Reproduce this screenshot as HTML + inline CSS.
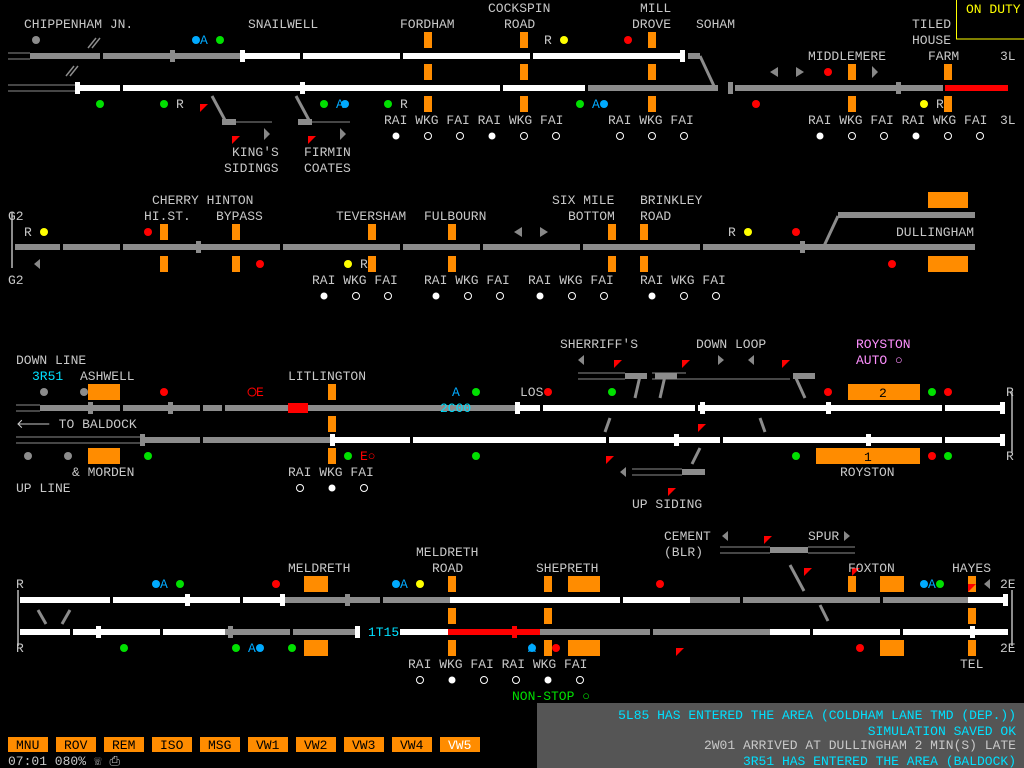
<!DOCTYPE html>
<html><head><meta charset="utf-8"><style>
html,body{margin:0;padding:0;background:#000;width:1024px;height:768px;overflow:hidden}
svg{display:block}
text{font-family:"Liberation Mono",monospace;font-size:13px;fill:#c8c8c8}
.c{fill:#00e0ff}.g{fill:#00e000}.y{fill:#ffff00}.p{fill:#ff90ff}.k{fill:#000}
.w{fill:#fff}.gr{fill:#8c8c8c}.o{fill:#ff8c00}.r{fill:#ff0000}
</style></head><body>
<svg width="1024" height="768" viewBox="0 0 1024 768" xmlns="http://www.w3.org/2000/svg">
<g stroke="#8c8c8c" stroke-width="1" fill="none">
<path d="M8 53h22M8 59h22M8 85h67M8 91h67M16 405h24M16 411h24M16 437h124M16 443h124M578 373h47M578 379h47M652 373h34M652 379h138M632 469h50M632 475h50M720 547h50M720 553h50M808 547h47M808 553h47"/>
</g>
<g stroke="#8c8c8c" stroke-width="3" fill="none">
<path d="M700 56l14 30M824 246l14-30M296 96l14 26M212 96l14 26M795 376l10 22M640 376l-5 22M665 376l-5 22M610 418l-5 14M760 418l5 14M700 448l-8 16M790 565l14 26M820 605l8 16M38 610l8 14M70 610l-8 14"/>
<path d="M222 122h50M310 122h40" stroke-width="1"/>
<path d="M96 38l-8 10M100 38l-8 10M74 66l-8 10M78 66l-8 10" stroke-width="1.5"/>
</g>
<!-- row1 tracks -->
<rect x="30" y="53" width="210" height="6" class="gr"/>
<rect x="243" y="53" width="442" height="6" class="w"/>
<rect x="688" y="53" width="12" height="6" class="gr"/>
<rect x="75" y="85" width="510" height="6" class="w"/>
<rect x="588" y="85" width="130" height="6" class="gr"/>
<rect x="735" y="85" width="208" height="6" class="gr"/>
<rect x="945" y="85" width="63" height="6" class="r"/>
<rect x="222" y="119" width="14" height="6" class="gr"/><rect x="298" y="119" width="14" height="6" class="gr"/>
<!-- row2 -->
<rect x="15" y="244" width="810" height="6" class="gr"/>
<rect x="838" y="212" width="137" height="6" class="gr"/>
<rect x="825" y="244" width="150" height="6" class="gr"/>
<!-- row3 -->
<rect x="40" y="405" width="475" height="6" class="gr"/>
<rect x="288" y="403" width="20" height="10" class="r"/>
<rect x="515" y="405" width="490" height="6" class="w"/>
<rect x="140" y="437" width="190" height="6" class="gr"/>
<rect x="330" y="437" width="675" height="6" class="w"/>
<rect x="625" y="373" width="22" height="6" class="gr"/><rect x="655" y="373" width="22" height="6" class="gr"/><rect x="793" y="373" width="22" height="6" class="gr"/>
<rect x="682" y="469" width="23" height="6" class="gr"/>
<!-- row4 -->
<rect x="20" y="597" width="265" height="6" class="w"/>
<rect x="285" y="597" width="165" height="6" class="gr"/>
<rect x="450" y="597" width="240" height="6" class="w"/>
<rect x="690" y="597" width="278" height="6" class="gr"/>
<rect x="968" y="597" width="40" height="6" class="w"/>
<rect x="20" y="629" width="205" height="6" class="w"/>
<rect x="225" y="629" width="130" height="6" class="gr"/>
<rect x="400" y="629" width="48" height="6" class="w"/>
<rect x="448" y="629" width="92" height="6" class="r"/>
<rect x="540" y="629" width="230" height="6" class="gr"/>
<rect x="770" y="629" width="238" height="6" class="w"/>
<rect x="770" y="547" width="38" height="6" class="gr"/>
<!-- track section gaps / joints -->
<g class="k">
<rect x="120" y="84" width="3" height="8"/><rect x="300" y="84" width="3" height="8"/><rect x="500" y="84" width="3" height="8"/>
<rect x="100" y="52" width="3" height="8"/><rect x="300" y="52" width="3" height="8"/><rect x="400" y="52" width="3" height="8"/><rect x="530" y="52" width="3" height="8"/>
<rect x="60" y="243" width="3" height="8"/><rect x="120" y="243" width="3" height="8"/><rect x="280" y="243" width="3" height="8"/><rect x="400" y="243" width="3" height="8"/><rect x="480" y="243" width="3" height="8"/><rect x="580" y="243" width="3" height="8"/><rect x="700" y="243" width="3" height="8"/>
<rect x="120" y="404" width="3" height="8"/><rect x="200" y="404" width="3" height="8"/><rect x="222" y="404" width="3" height="8"/><rect x="540" y="404" width="3" height="8"/><rect x="695" y="404" width="3" height="8"/><rect x="942" y="404" width="3" height="8"/>
<rect x="200" y="436" width="3" height="8"/><rect x="410" y="436" width="3" height="8"/><rect x="606" y="436" width="3" height="8"/><rect x="720" y="436" width="3" height="8"/><rect x="942" y="436" width="3" height="8"/>
<rect x="110" y="596" width="3" height="8"/><rect x="240" y="596" width="3" height="8"/><rect x="380" y="596" width="3" height="8"/><rect x="620" y="596" width="3" height="8"/><rect x="740" y="596" width="3" height="8"/><rect x="880" y="596" width="3" height="8"/>
<rect x="70" y="628" width="3" height="8"/><rect x="160" y="628" width="3" height="8"/><rect x="290" y="628" width="3" height="8"/><rect x="650" y="628" width="3" height="8"/><rect x="810" y="628" width="3" height="8"/><rect x="900" y="628" width="3" height="8"/>
</g>
<!-- end blocks -->
<g class="w">
<rect x="240" y="50" width="5" height="12"/><rect x="680" y="50" width="5" height="12"/><rect x="75" y="82" width="5" height="12"/><rect x="300" y="82" width="5" height="12"/>
<rect x="515" y="402" width="5" height="12"/><rect x="700" y="402" width="5" height="12"/><rect x="826" y="402" width="5" height="12"/><rect x="1000" y="402" width="5" height="12"/>
<rect x="330" y="434" width="5" height="12"/><rect x="674" y="434" width="5" height="12"/><rect x="866" y="434" width="5" height="12"/><rect x="1000" y="434" width="5" height="12"/>
<rect x="185" y="594" width="5" height="12"/><rect x="280" y="594" width="5" height="12"/><rect x="1003" y="594" width="5" height="12"/><rect x="96" y="626" width="5" height="12"/><rect x="355" y="626" width="5" height="12"/><rect x="970" y="626" width="5" height="12"/>
</g>
<g class="gr"><rect x="170" y="50" width="5" height="12"/><rect x="728" y="82" width="5" height="12"/><rect x="896" y="82" width="5" height="12"/><rect x="196" y="241" width="5" height="12"/><rect x="800" y="241" width="5" height="12"/><rect x="88" y="402" width="5" height="12"/><rect x="168" y="402" width="5" height="12"/><rect x="140" y="434" width="5" height="12"/><rect x="345" y="594" width="5" height="12"/><rect x="228" y="626" width="5" height="12"/></g>
<rect x="512" y="626" width="5" height="12" class="r"/>
<g stroke="#8c8c8c" stroke-width="2"><path d="M12 212v56M1012 392v60M18 590v56M1012 590v56"/></g>
<!-- orange boxes -->
<g class="o">
<rect x="424" y="32" width="8" height="16"/><rect x="424" y="64" width="8" height="16"/><rect x="424" y="96" width="8" height="16"/>
<rect x="520" y="32" width="8" height="16"/><rect x="520" y="64" width="8" height="16"/><rect x="520" y="96" width="8" height="16"/>
<rect x="648" y="32" width="8" height="16"/><rect x="648" y="64" width="8" height="16"/><rect x="648" y="96" width="8" height="16"/>
<rect x="848" y="64" width="8" height="16"/><rect x="848" y="96" width="8" height="16"/><rect x="944" y="64" width="8" height="16"/><rect x="944" y="96" width="8" height="16"/>
<rect x="160" y="224" width="8" height="16"/><rect x="160" y="256" width="8" height="16"/><rect x="232" y="224" width="8" height="16"/><rect x="232" y="256" width="8" height="16"/>
<rect x="368" y="224" width="8" height="16"/><rect x="368" y="256" width="8" height="16"/><rect x="448" y="224" width="8" height="16"/><rect x="448" y="256" width="8" height="16"/>
<rect x="608" y="224" width="8" height="16"/><rect x="608" y="256" width="8" height="16"/><rect x="640" y="224" width="8" height="16"/><rect x="640" y="256" width="8" height="16"/>
<rect x="928" y="192" width="40" height="16"/><rect x="928" y="256" width="40" height="16"/>
<rect x="88" y="384" width="32" height="16"/><rect x="88" y="448" width="32" height="16"/>
<rect x="328" y="384" width="8" height="16"/><rect x="328" y="416" width="8" height="16"/><rect x="328" y="448" width="8" height="16"/>
<rect x="848" y="384" width="72" height="16"/><rect x="816" y="448" width="104" height="16"/>
<rect x="304" y="576" width="24" height="16"/><rect x="304" y="640" width="24" height="16"/>
<rect x="448" y="576" width="8" height="16"/><rect x="448" y="608" width="8" height="16"/><rect x="448" y="640" width="8" height="16"/>
<rect x="544" y="576" width="8" height="16"/><rect x="568" y="576" width="32" height="16"/><rect x="544" y="608" width="8" height="16"/><rect x="544" y="640" width="8" height="16"/><rect x="568" y="640" width="32" height="16"/>
<rect x="848" y="576" width="8" height="16"/><rect x="880" y="576" width="24" height="16"/><rect x="880" y="640" width="24" height="16"/>
<rect x="968" y="576" width="8" height="16"/><rect x="968" y="608" width="8" height="16"/><rect x="968" y="640" width="8" height="16"/>
</g>
<text x="879" y="397" class="k">2</text><text x="864" y="461" class="k">1</text>
<!-- signals -->
<g>
<circle cx="36" cy="40" r="4" class="gr"/><circle cx="220" cy="40" r="4" class="g"/><circle cx="196" cy="40" r="4" fill="#0af"/><circle cx="564" cy="40" r="4" class="y"/><circle cx="628" cy="40" r="4" class="r"/>
<circle cx="100" cy="104" r="4" class="g"/><circle cx="164" cy="104" r="4" class="g"/><circle cx="324" cy="104" r="4" class="g"/><circle cx="388" cy="104" r="4" class="g"/><circle cx="580" cy="104" r="4" class="g"/><circle cx="604" cy="104" r="4" fill="#0af"/><circle cx="345" cy="104" r="4" fill="#0af"/>
<circle cx="756" cy="104" r="4" class="r"/><circle cx="828" cy="72" r="4" class="r"/><circle cx="924" cy="104" r="4" class="y"/>
<circle cx="44" cy="232" r="4" class="y"/><circle cx="148" cy="232" r="4" class="r"/><circle cx="260" cy="264" r="4" class="r"/><circle cx="348" cy="264" r="4" class="y"/><circle cx="748" cy="232" r="4" class="y"/><circle cx="796" cy="232" r="4" class="r"/><circle cx="892" cy="264" r="4" class="r"/>
<circle cx="44" cy="392" r="4" class="gr"/><circle cx="84" cy="392" r="4" class="gr"/><circle cx="164" cy="392" r="4" class="r"/><circle cx="252" cy="392" r="4" fill="none" stroke="#f00"/><circle cx="476" cy="392" r="4" class="g"/><circle cx="548" cy="392" r="4" class="r"/><circle cx="612" cy="392" r="4" class="g"/>
<circle cx="828" cy="392" r="4" class="r"/><circle cx="932" cy="392" r="4" class="g"/><circle cx="948" cy="392" r="4" class="r"/>
<circle cx="28" cy="456" r="4" class="gr"/><circle cx="68" cy="456" r="4" class="gr"/><circle cx="148" cy="456" r="4" class="g"/><circle cx="348" cy="456" r="4" class="g"/><circle cx="476" cy="456" r="4" class="g"/><circle cx="796" cy="456" r="4" class="g"/><circle cx="932" cy="456" r="4" class="r"/><circle cx="948" cy="456" r="4" class="g"/>
<circle cx="156" cy="584" r="4" fill="#0af"/><circle cx="180" cy="584" r="4" class="g"/><circle cx="276" cy="584" r="4" class="r"/><circle cx="396" cy="584" r="4" fill="#0af"/><circle cx="420" cy="584" r="4" class="y"/><circle cx="660" cy="584" r="4" class="r"/><circle cx="924" cy="584" r="4" fill="#0af"/><circle cx="940" cy="584" r="4" class="g"/>
<circle cx="124" cy="648" r="4" class="g"/><circle cx="236" cy="648" r="4" class="g"/><circle cx="260" cy="648" r="4" fill="#0af"/><circle cx="292" cy="648" r="4" class="g"/><circle cx="532" cy="648" r="4" fill="#0af"/><circle cx="556" cy="648" r="4" class="r"/><circle cx="860" cy="648" r="4" class="r"/>
</g>
<g fill="#888"><path d="M770 72l8-5v10zM804 72l-8-5v10zM872 66l6 6-6 6zM264 128l6 6-6 6zM340 128l6 6-6 6zM514 232l8-5v10zM548 232l-8-5v10zM34 264l6-5v10zM578 360l6-5v10zM724 360l-6-5v10zM748 360l6-5v10zM620 472l6-5v10zM722 536l6-5v10zM850 536l-6-5v10zM984 584l6-5v10z"/></g>
<g fill="#f00"><path d="M200 104l8 0-8 8zM232 136l8 0-8 8zM308 136l8 0-8 8zM614 360l8 0-8 8zM682 360l8 0-8 8zM782 360l8 0-8 8zM698 424l8 0-8 8zM606 456l8 0-8 8zM668 488l8 0-8 8zM764 536l8 0-8 8zM804 568l8 0-8 8zM852 568l8 0-8 8zM676 648l8 0-8 8zM968 584l8 0-8 8z"/></g>
<!-- labels -->
<text x="24" y="28">CHIPPENHAM JN.</text><text x="248" y="28">SNAILWELL</text><text x="400" y="28">FORDHAM</text>
<text x="488" y="12">COCKSPIN</text><text x="504" y="28">ROAD</text><text x="640" y="12">MILL</text><text x="632" y="28">DROVE</text><text x="696" y="28">SOHAM</text>
<text x="912" y="28">TILED</text><text x="912" y="44">HOUSE</text><text x="808" y="60">MIDDLEMERE</text><text x="928" y="60">FARM</text><text x="1000" y="60">3L</text><text x="1000" y="124">3L</text>
<text x="200" y="44" fill="#0af" style="fill:#0af">A</text><text x="544" y="44">R</text><text x="176" y="108">R</text><text x="400" y="108">R</text><text x="936" y="108">R</text><text x="336" y="108" style="fill:#0af">A</text><text x="592" y="108" style="fill:#0af">A</text>
<text x="232" y="156">KING'S</text><text x="224" y="172">SIDINGS</text><text x="304" y="156">FIRMIN</text><text x="304" y="172">COATES</text>
<text x="384" y="124">RAI WKG FAI RAI WKG FAI</text><text x="608" y="124">RAI WKG FAI</text><text x="808" y="124">RAI WKG FAI RAI WKG FAI</text>
<text x="152" y="204">CHERRY HINTON</text><text x="144" y="220">HI.ST.</text><text x="216" y="220">BYPASS</text><text x="336" y="220">TEVERSHAM</text><text x="424" y="220">FULBOURN</text>
<text x="552" y="204">SIX MILE</text><text x="568" y="220">BOTTOM</text><text x="640" y="204">BRINKLEY</text><text x="640" y="220">ROAD</text><text x="896" y="236">DULLINGHAM</text>
<text x="8" y="220">G2</text><text x="8" y="284">G2</text><text x="24" y="236">R</text><text x="728" y="236">R</text><text x="360" y="268">R</text>
<text x="312" y="284">RAI WKG FAI</text><text x="424" y="284">RAI WKG FAI</text><text x="528" y="284">RAI WKG FAI</text><text x="640" y="284">RAI WKG FAI</text>
<text x="16" y="364">DOWN LINE</text><text x="32" y="380" class="c">3R51</text><text x="80" y="380">ASHWELL</text><text x="288" y="380">LITLINGTON</text>
<text x="560" y="348">SHERRIFF'S</text><text x="696" y="348">DOWN LOOP</text><text x="856" y="348" class="p">ROYSTON</text><text x="856" y="364" class="p">AUTO ○</text>
<text x="256" y="396" class="r">E</text><text x="452" y="396" style="fill:#0af">A</text><text x="520" y="396">LOS</text><text x="440" y="412" class="c">2C00</text><text x="1006" y="396">R</text><text x="1006" y="460">R</text>
<text x="16" y="428">🡐 TO BALDOCK</text><text x="72" y="476">&amp; MORDEN</text><text x="16" y="492">UP LINE</text><text x="360" y="460" class="r">E○</text>
<text x="288" y="476">RAI WKG FAI</text><text x="840" y="476">ROYSTON</text><text x="632" y="508">UP SIDING</text>
<text x="664" y="540">CEMENT</text><text x="664" y="556">(BLR)</text><text x="808" y="540">SPUR</text>
<text x="416" y="556">MELDRETH</text><text x="288" y="572">MELDRETH</text><text x="432" y="572">ROAD</text><text x="536" y="572">SHEPRETH</text><text x="848" y="572">FOXTON</text><text x="952" y="572">HAYES</text>
<text x="16" y="588">R</text><text x="16" y="652">R</text><text x="1000" y="588">2E</text><text x="1000" y="652">2E</text><text x="160" y="588" style="fill:#0af">A</text><text x="400" y="588" style="fill:#0af">A</text><text x="928" y="588" style="fill:#0af">A</text>
<text x="368" y="636" class="c">1T15</text><text x="248" y="652" style="fill:#0af">A</text><text x="528" y="652" style="fill:#0af">A</text>
<text x="408" y="668">RAI WKG FAI RAI WKG FAI</text><text x="960" y="668">TEL</text><text x="512" y="700" class="g">NON-STOP ○</text>
<!-- white/hollow dots -->
<g fill="#fff"><circle cx="396" cy="136" r="3.5"/><circle cx="492" cy="136" r="3.5"/><circle cx="820" cy="136" r="3.5"/><circle cx="916" cy="136" r="3.5"/><circle cx="324" cy="296" r="3.5"/><circle cx="436" cy="296" r="3.5"/><circle cx="540" cy="296" r="3.5"/><circle cx="652" cy="296" r="3.5"/><circle cx="332" cy="488" r="3.5"/><circle cx="452" cy="680" r="3.5"/><circle cx="548" cy="680" r="3.5"/></g>
<g fill="none" stroke="#fff"><circle cx="428" cy="136" r="3.5"/><circle cx="460" cy="136" r="3.5"/><circle cx="524" cy="136" r="3.5"/><circle cx="556" cy="136" r="3.5"/><circle cx="620" cy="136" r="3.5"/><circle cx="652" cy="136" r="3.5"/><circle cx="684" cy="136" r="3.5"/><circle cx="852" cy="136" r="3.5"/><circle cx="884" cy="136" r="3.5"/><circle cx="948" cy="136" r="3.5"/><circle cx="980" cy="136" r="3.5"/>
<circle cx="356" cy="296" r="3.5"/><circle cx="388" cy="296" r="3.5"/><circle cx="468" cy="296" r="3.5"/><circle cx="500" cy="296" r="3.5"/><circle cx="572" cy="296" r="3.5"/><circle cx="604" cy="296" r="3.5"/><circle cx="684" cy="296" r="3.5"/><circle cx="716" cy="296" r="3.5"/>
<circle cx="300" cy="488" r="3.5"/><circle cx="364" cy="488" r="3.5"/><circle cx="420" cy="680" r="3.5"/><circle cx="484" cy="680" r="3.5"/><circle cx="516" cy="680" r="3.5"/><circle cx="580" cy="680" r="3.5"/></g>
<!-- ON DUTY -->
<rect x="956.5" y="-1" width="70" height="40" fill="#000" stroke="#ff0"/><text x="966" y="13" class="y">ON DUTY</text>
<!-- buttons -->
<g class="o"><rect x="8" y="737" width="40" height="15"/><rect x="56" y="737" width="40" height="15"/><rect x="104" y="737" width="40" height="15"/><rect x="152" y="737" width="40" height="15"/><rect x="200" y="737" width="40" height="15"/><rect x="248" y="737" width="40" height="15"/><rect x="296" y="737" width="40" height="15"/><rect x="344" y="737" width="40" height="15"/><rect x="392" y="737" width="40" height="15"/><rect x="440" y="737" width="40" height="15"/></g>
<g class="k"><text x="16" y="749" class="k">MNU</text><text x="64" y="749" class="k">ROV</text><text x="112" y="749" class="k">REM</text><text x="160" y="749" class="k">ISO</text><text x="208" y="749" class="k">MSG</text><text x="256" y="749" class="k">VW1</text><text x="304" y="749" class="k">VW2</text><text x="352" y="749" class="k">VW3</text><text x="400" y="749" class="k">VW4</text><text x="448" y="749" style="fill:#fff">VW5</text></g>
<text x="8" y="765">07:01  080% ☏  ⎙</text>
<rect x="537" y="703" width="487" height="65" fill="#555"/>
<g style="font-size:13px"><text x="1016" y="719" text-anchor="end" class="c">5L85 HAS ENTERED THE AREA (COLDHAM LANE TMD (DEP.))</text>
<text x="1016" y="735" text-anchor="end" class="c">SIMULATION SAVED OK</text>
<text x="1016" y="749" text-anchor="end">2W01 ARRIVED AT DULLINGHAM 2 MIN(S) LATE</text>
<text x="1016" y="765" text-anchor="end" class="c">3R51 HAS ENTERED THE AREA (BALDOCK)</text></g>
</svg>
</body></html>
